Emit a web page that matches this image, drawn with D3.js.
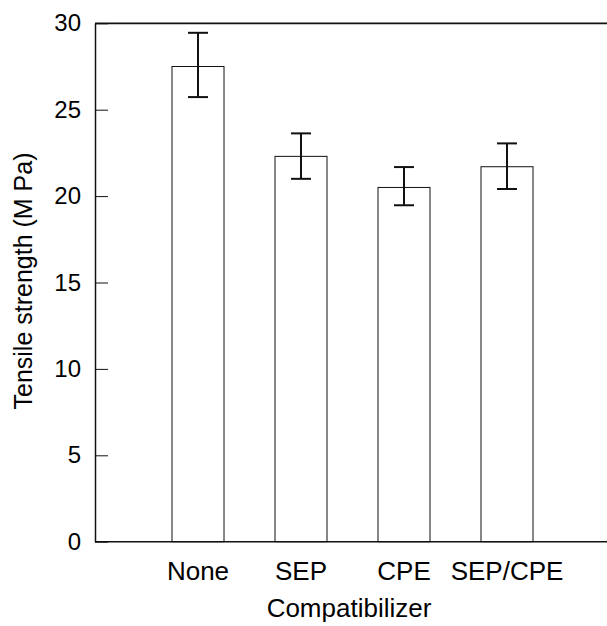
<!DOCTYPE html>
<html><head><meta charset="utf-8">
<script src="https://cdn.jsdelivr.net/npm/d3@7"></script>
<style>body{margin:0;background:#fff}text{font-family:Arial,"Liberation Sans",sans-serif;fill:#000}</style>
</head><body>
<svg id="c" width="607" height="626"></svg>
<script>
const categories = ["None", "SEP", "CPE", "SEP/CPE"];
const values = [27.5, 22.3, 20.5, 21.7];
const errHigh = [29.45, 23.63, 21.68, 23.05];
const errLow = [25.73, 21.0, 19.47, 20.41];
const yTicks = [0, 5, 10, 15, 20, 25, 30];

const svg = d3.select("#c");
const L = 95, T = 23.3, B = 541.7, R = 610;
const x = d3.scaleLinear().domain([0, categories.length + 1]).range([L, R]);
const y = d3.scaleLinear().domain([0, 30]).range([B, T]);
const bw = x(0.505) - x(0);

// bars
svg.selectAll("rect.bar").data(values).enter().append("rect")
  .attr("x", (d, i) => x(i + 1) - bw / 2)
  .attr("y", d => y(d))
  .attr("width", bw)
  .attr("height", d => y(0) - y(d))
  .attr("fill", "#fff").attr("stroke", "#111").attr("stroke-width", 1);

// error bars
const eb = svg.append("g").attr("stroke", "#111").attr("stroke-width", 2);
categories.forEach((c, i) => {
  const cx = x(i + 1);
  eb.append("line").attr("x1", cx).attr("x2", cx).attr("y1", y(errLow[i])).attr("y2", y(errHigh[i]));
  eb.append("line").attr("x1", cx - 10).attr("x2", cx + 10).attr("y1", y(errLow[i])).attr("y2", y(errLow[i]));
  eb.append("line").attr("x1", cx - 10).attr("x2", cx + 10).attr("y1", y(errHigh[i])).attr("y2", y(errHigh[i]));
});

// frame lines
svg.append("line").attr("x1", L).attr("x2", 607).attr("y1", y(30)).attr("y2", y(30)).attr("stroke", "#111").attr("stroke-width", 1.8);
svg.append("line").attr("x1", L).attr("x2", 607).attr("y1", y(0)).attr("y2", y(0)).attr("stroke", "#111").attr("stroke-width", 1.5);

// y axis
const ya = svg.append("g").attr("transform", `translate(${L},0)`)
  .call(d3.axisLeft(y).tickValues(yTicks).tickSizeInner(-13).tickSizeOuter(0).tickPadding(14));
ya.select(".domain").attr("stroke", "#111").attr("stroke-width", 1.5);
ya.selectAll(".tick line").attr("stroke", "#111").attr("stroke-width", 1);
ya.selectAll(".tick text").attr("font-size", 24).attr("font-family", "Arial, 'Liberation Sans', sans-serif").attr("fill", "#000");

// x labels
svg.selectAll("text.xl").data(categories).enter().append("text")
  .attr("x", (d, i) => x(i + 1)).attr("y", 580)
  .attr("text-anchor", "middle").attr("font-size", 26).text(d => d);

svg.append("text").attr("x", 349).attr("y", 617).attr("text-anchor", "middle")
  .attr("font-size", 26).text("Compatibilizer");

svg.append("text").attr("transform", `translate(32,281) rotate(-90)`)
  .attr("text-anchor", "middle").attr("font-size", 25).text("Tensile strength (M Pa)");
</script>
</body></html>
